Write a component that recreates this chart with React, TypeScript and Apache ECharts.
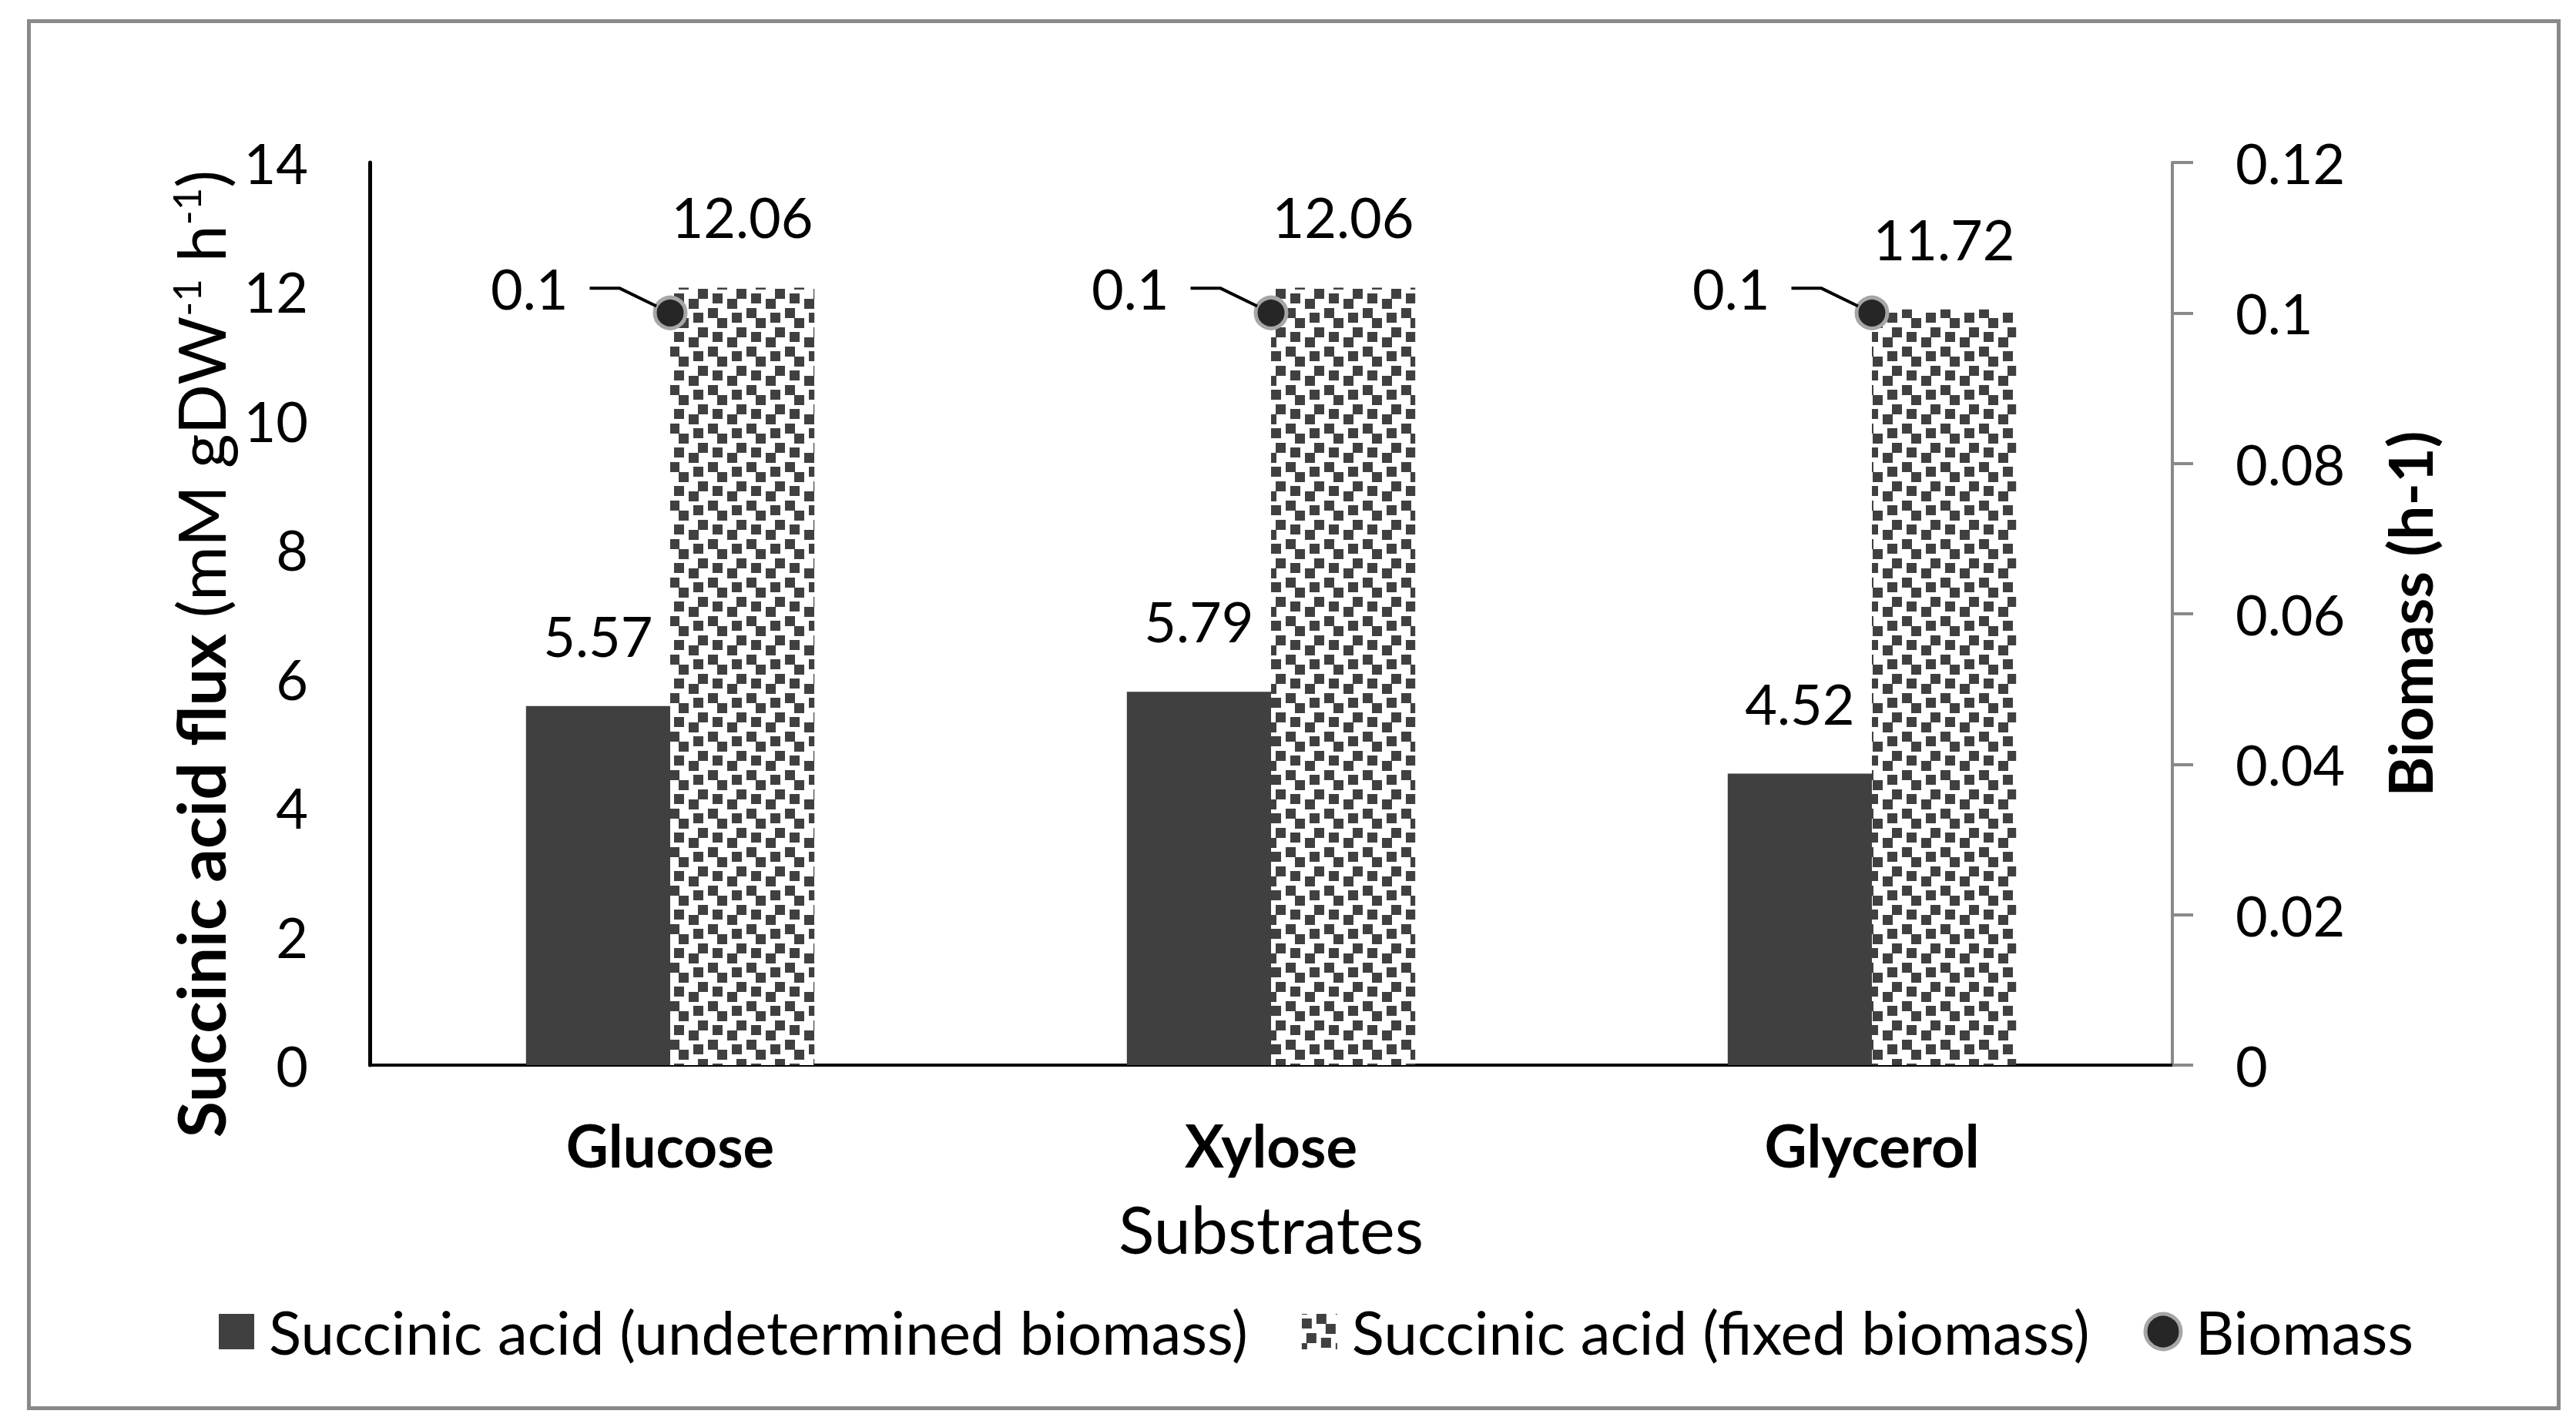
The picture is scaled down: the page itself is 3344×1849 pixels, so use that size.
import React, { useEffect, useRef } from 'react';
import * as echarts from 'echarts';

const categories = ['Glucose', 'Xylose', 'Glycerol'];
const undeterminedBiomass = [5.57, 5.79, 4.52];
const fixedBiomass = [12.06, 12.06, 11.72];
const biomass = [0.1, 0.1, 0.1];
const seriesNames = [
  'Succinic acid (undetermined biomass)',
  'Succinic acid (fixed biomass)',
  'Biomass',
];
const leftAxisRange = [0, 14, 2];
const rightAxisRange = [0, 0.12, 0.02];

// 8x8 cell pattern tile (2x2 cell squares)
const PATTERN_CELLS = [
  [3, 0],
  [0, 1],
  [5, 2],
  [1, 4],
  [4, 5],
  [7, 6],
];

const FONT = 'Lato';

function makePattern(): string {
  const size = 50;
  const cell = 6.25;
  const c = document.createElement('canvas');
  c.width = size;
  c.height = size;
  const ctx = c.getContext('2d') as CanvasRenderingContext2D;
  ctx.fillStyle = '#ffffff';
  ctx.fillRect(0, 0, size, size);
  ctx.fillStyle = '#404040';
  for (const [cx, cy] of PATTERN_CELLS) {
    for (const ox of [0, -size]) {
      for (const oy of [0, -size]) {
        ctx.fillRect(Math.round(cx * cell) + ox, Math.round(cy * cell) + oy, 13, 13);
      }
    }
  }
  return c.toDataURL();
}

export default function App() {
  const ref = useRef<HTMLDivElement>(null);

  useEffect(() => {
    if (!ref.current) return;
    const chart = echarts.init(ref.current, undefined, { renderer: 'svg' });
    const pattern: any = {
      image: makePattern(),
      repeat: 'repeat',
      imageWidth: 50,
      imageHeight: 50,
    };
    const pointStyle = { color: '#262626', borderColor: '#a6a6a6', borderWidth: 5, opacity: 1 };

    const option: any = {
      animation: false,
      backgroundColor: '#ffffff',
      textStyle: { fontFamily: FONT, color: '#000' },
      graphic: [
        {
          type: 'rect',
          shape: { x: 37.5, y: 27.5, width: 3284, height: 1801 },
          style: { fill: 'none', stroke: '#898989', lineWidth: 5 },
          silent: true,
        },
      ],
      grid: { left: 480, right: 524, top: 211, bottom: 466, containLabel: false },
      legend: {
        top: 1685,
        left: 279,
        itemWidth: 46,
        itemHeight: 46,
        itemGap: 70,
        textStyle: { fontFamily: FONT, fontSize: 78, color: '#000', padding: [0, 0, 0, 14] },
        data: [
          { name: seriesNames[0], icon: 'rect' },
          { name: seriesNames[1], icon: 'rect' },
          { name: seriesNames[2], icon: 'circle', itemStyle: pointStyle },
        ],
      },
      xAxis: {
        type: 'category',
        data: categories,
        name: 'Substrates',
        nameLocation: 'middle',
        nameGap: 168,
        nameTextStyle: { fontFamily: FONT, fontSize: 86, color: '#000' },
        axisLine: { show: true, lineStyle: { color: '#000', width: 4 } },
        axisTick: { show: false },
        axisLabel: {
          margin: 65,
          fontFamily: FONT,
          fontSize: 76,
          fontWeight: 'bold',
          color: '#000',
        },
        splitLine: { show: false },
      },
      yAxis: [
        {
          type: 'value',
          min: leftAxisRange[0],
          max: leftAxisRange[1],
          interval: leftAxisRange[2],
          position: 'left',
          name: '{b|Succinic acid flux }{n|(mM gDW}{s|-1}{n| h}{s|-1}{n|)}',
          nameLocation: 'middle',
          nameRotate: 90,
          nameGap: 178,
          nameTextStyle: {
            fontFamily: FONT,
            fontSize: 86,
            color: '#000',
            padding: [0, 104, 0, 0],
            rich: {
              b: { fontFamily: FONT, fontSize: 86, fontWeight: 'bold', color: '#000', lineHeight: 86 },
              n: { fontFamily: FONT, fontSize: 86, color: '#000', lineHeight: 86 },
              s: { fontFamily: FONT, fontSize: 51, color: '#000', lineHeight: 47, verticalAlign: 'top' },
            },
          },
          axisLine: { show: true, lineStyle: { color: '#000', width: 5 } },
          axisTick: { show: false },
          axisLabel: { margin: 80, fontFamily: FONT, fontSize: 72, color: '#000' },
          splitLine: { show: false },
        },
        {
          type: 'value',
          min: rightAxisRange[0],
          max: rightAxisRange[1],
          interval: rightAxisRange[2],
          position: 'right',
          name: 'Biomass (h-1)',
          nameLocation: 'middle',
          nameRotate: 90,
          nameGap: 268,
          nameTextStyle: { fontFamily: FONT, fontSize: 79, fontWeight: 'bold', color: '#000' },
          axisLine: { show: true, lineStyle: { color: '#898989', width: 4 } },
          axisTick: { show: true, inside: false, length: 27, lineStyle: { color: '#898989', width: 4 } },
          axisLabel: {
            margin: 82,
            fontFamily: FONT,
            fontSize: 72,
            color: '#000',
            formatter: (v: number) => String(+v.toFixed(2)),
          },
          splitLine: { show: false },
        },
      ],
      series: [
        {
          name: seriesNames[0],
          type: 'bar',
          data: undeterminedBiomass,
          yAxisIndex: 0,
          barGap: '0%',
          barCategoryGap: '52%',
          itemStyle: { color: '#404040' },
          label: {
            show: true,
            position: 'top',
            distance: 56,
            fontFamily: FONT,
            fontSize: 72,
            color: '#000',
            formatter: (p: any) => p.value.toFixed(2),
          },
        },
        {
          name: seriesNames[1],
          type: 'bar',
          data: fixedBiomass,
          yAxisIndex: 0,
          barGap: '0%',
          barCategoryGap: '52%',
          itemStyle: { color: pattern },
          label: {
            show: true,
            position: 'top',
            distance: 56,
            fontFamily: FONT,
            fontSize: 72,
            color: '#000',
            formatter: (p: any) => p.value.toFixed(2),
          },
        },
        {
          name: seriesNames[2],
          type: 'scatter',
          data: biomass,
          yAxisIndex: 1,
          symbol: 'circle',
          symbolSize: 40,
          z: 5,
          itemStyle: pointStyle,
          label: {
            show: true,
            position: 'left',
            distance: 82,
            fontFamily: FONT,
            fontSize: 72,
            color: '#000',
            formatter: (p: any) => '{v|' + String(p.value) + '}{sp| }',
            rich: {
              v: { fontFamily: FONT, fontSize: 72, color: '#000' },
              sp: { fontFamily: FONT, fontSize: 72, width: 28 },
            },
          },
          labelLayout: { dy: -32 },
          labelLine: {
            show: true,
            showAbove: true,
            length2: 39,
            minTurnAngle: 20,
            lineStyle: { color: '#000', width: 4, opacity: 1 },
          },
        },
      ],
    };

    chart.setOption(option);
    return () => {
      chart.dispose();
    };
  }, []);

  return (
    <div
      ref={ref}
      style={{ position: 'absolute', left: 0, top: 0, width: 3344, height: 1849 }}
    />
  );
}
